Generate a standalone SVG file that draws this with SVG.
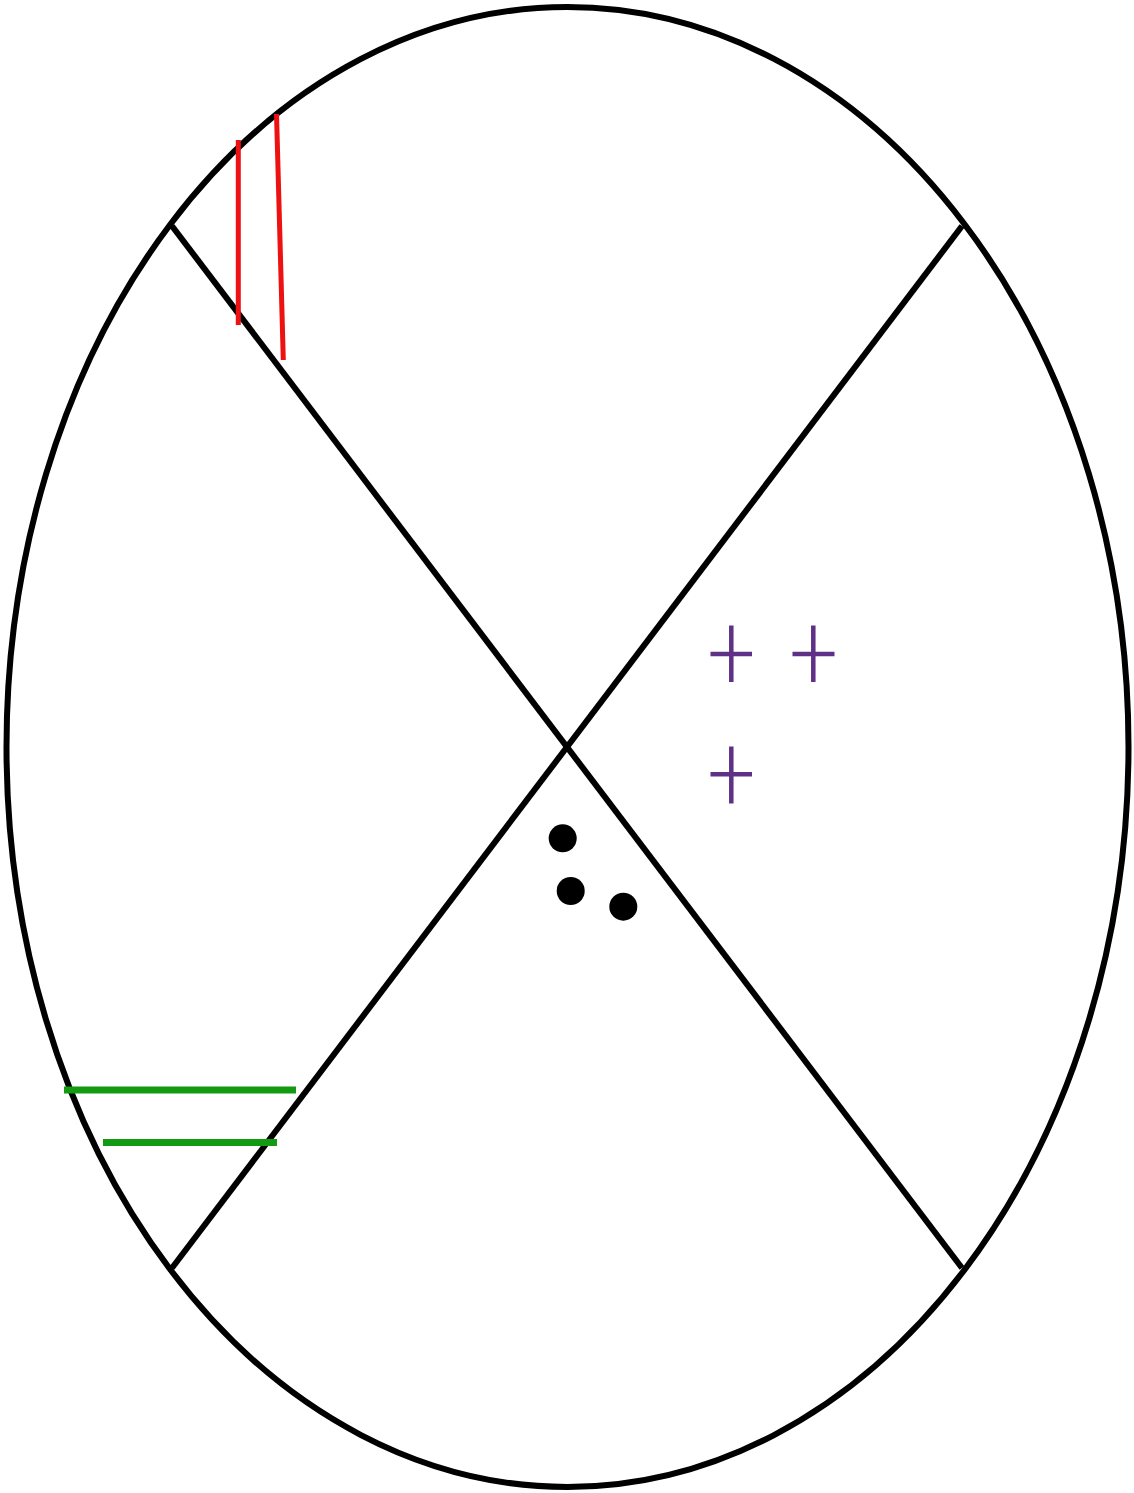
<svg xmlns="http://www.w3.org/2000/svg" width="1134" height="1493" viewBox="0 0 1134 1493">
<style>
.blk{stroke:#000;stroke-width:6;fill:none}
.red{stroke:#ee1111;stroke-width:5;stroke-linecap:butt}
.grn{stroke:#129a12;stroke-width:7}
.pur{stroke:#5e3186;stroke-width:4.5}
</style>
<rect width="1134" height="1493" fill="#fff"/>
<g id="egg">
<ellipse class="blk" cx="567.5" cy="747" rx="561" ry="740"/>
</g>
<g id="cross">
<line class="blk" x1="172" y1="226" x2="962" y2="1268"/>
<line class="blk" x1="962" y1="226" x2="172" y2="1268"/>
</g>
<g id="red-marks">
<line class="red" x1="238.3" y1="140" x2="238.3" y2="325"/>
<line class="red" x1="276.5" y1="114" x2="283.3" y2="360"/>
</g>
<g id="green-marks">
<line class="grn" x1="64" y1="1090" x2="296" y2="1090"/>
<line class="grn" x1="103" y1="1142.5" x2="277" y2="1142.5"/>
</g>
<g id="plus-marks">
<path class="pur" d="M710.5 654H752M731.3 625.5V682"/>
<path class="pur" d="M792.5 654H834.5M813.3 625.5V682"/>
<path class="pur" d="M710.5 774.3H752M731.3 746.5V803.5"/>
</g>
<g id="dots" fill="#000">
<circle cx="562.7" cy="838.3" r="14"/>
<circle cx="570.7" cy="891" r="14"/>
<circle cx="623.3" cy="906.7" r="14"/>
</g>
</svg>
